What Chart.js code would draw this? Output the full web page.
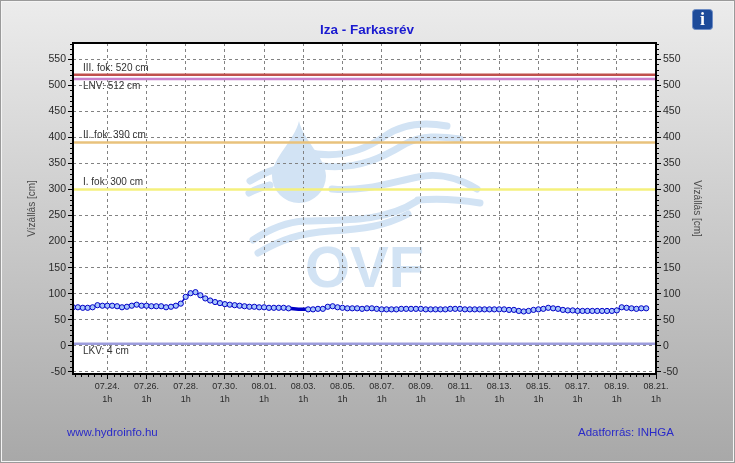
<!DOCTYPE html>
<html>
<head>
<meta charset="utf-8">
<title>Iza - Farkasrév</title>
<script src="https://cdn.jsdelivr.net/npm/chart.js@4.4.1/dist/chart.umd.min.js"></script>
<style>
  html, body { margin: 0; padding: 0; background: #fff; }
  canvas { display: block; }
</style>
</head>
<body>
<canvas id="chart" width="735" height="463"></canvas>
<script>
// time axis in hours, 07.24. 1h = 0; one reading every 6 hours from 07.22. 7h
const firstHour = -42;
const stepHours = 6;
const waterLevels = [
  74, 74, 73, 73, 74, 78, 77, 77, 77, 76, 74, 75, 77, 79, 77, 77, 76, 76, 76, 74,
  75, 77, 81, 94, 101, 103, 97, 91, 87, 84, 82, 80, 79, 78, 77, 76, 75, 75, 74, 74,
  73, 73, 73, 73, 72, 71, 70, 70, 70, 70, 71, 71, 75, 76, 74, 73, 72, 72, 72, 71,
  72, 72, 71, 70, 70, 70, 70, 71, 71, 71, 71, 71, 70, 70, 70, 70, 70, 71, 71, 71,
  70, 70, 70, 70, 70, 70, 70, 70, 70, 69, 69, 67, 66, 67, 69, 70, 71, 73, 72, 71,
  69, 68, 68, 67, 67, 67, 67, 67, 67, 67, 67, 68, 74, 73, 72, 71, 72, 72
];
// readings drawn without a marker in the original
const noMarker = [45, 46, 47];

const xTickLabels = ['07.24.', '07.26.', '07.28.', '07.30.', '08.01.', '08.03.', '08.05.', '08.07.',
  '08.09.', '08.11.', '08.13.', '08.15.', '08.17.', '08.19.', '08.21.'];
const xMin = -42;
const xMax = 672;

const levelValues = [520, 512, 390, 300, 4];
const levelLabels = ['III. fok: 520 cm', 'LNV: 512 cm', 'II. fok: 390 cm', 'I. fok: 300 cm', 'LKV: 4 cm'];
const levelColors = ['#c0504d', '#c880cc', '#e8c27c', '#f4f07c', '#9c9cdc'];
const labelBelow = ['LNV: 512 cm', 'LKV: 4 cm'];

const FONT = '"Liberation Sans", Arial, sans-serif';

const pageBits = {
  id: 'pageBits',
  beforeDraw(chart) {
    const ctx = chart.ctx;
    const a = chart.chartArea;
    ctx.save();
    const g = ctx.createLinearGradient(0, 0, 0, chart.height);
    g.addColorStop(0, '#ececec');
    g.addColorStop(1, '#a8a8a8');
    ctx.fillStyle = g;
    ctx.fillRect(0, 0, chart.width, chart.height);
    ctx.strokeStyle = '#9a9a9a';
    ctx.lineWidth = 1;
    ctx.strokeRect(0.5, 0.5, chart.width - 1, chart.height - 1);
    ctx.strokeStyle = '#f4f4f4';
    ctx.strokeRect(1.5, 1.5, chart.width - 3, chart.height - 3);
    ctx.fillStyle = '#fff';
    ctx.fillRect(a.left, a.top, a.right - a.left, a.bottom - a.top);

    // OVF watermark
    const wm = '#d2e3f4';
    ctx.fillStyle = wm;
    ctx.strokeStyle = wm;
    ctx.beginPath();
    ctx.moveTo(299, 121);
    ctx.bezierCurveTo(295, 140, 272, 158, 272, 176);
    ctx.arc(299, 176, 27, Math.PI, 0, true);
    ctx.bezierCurveTo(326, 158, 303, 140, 299, 121);
    ctx.fill();
    ctx.lineWidth = 7;
    ctx.lineCap = 'round';
    const waves = [
      [[306, 152], [340, 160, 365, 150, 385, 136], [402, 124, 425, 122, 447, 126]],
      [[322, 166], [360, 170, 385, 156, 405, 144], [422, 135, 440, 136, 460, 139]],
      [[250, 181], [258, 176, 266, 172, 277, 169], null],
      [[249, 193], [256, 189, 262, 187, 270, 185], null],
      [[332, 189], [365, 192, 392, 182, 418, 177], [440, 172, 462, 180, 477, 189]],
      [[418, 200], [440, 198, 462, 200, 480, 203], null],
      [[253, 240], [268, 230, 285, 222, 305, 221], [345, 220, 385, 222, 417, 201]],
      [[258, 253], [280, 240, 300, 233, 330, 231], [365, 229, 385, 226, 408, 214]]
    ];
    waves.forEach(w => {
      ctx.beginPath();
      ctx.moveTo(w[0][0], w[0][1]);
      ctx.bezierCurveTo(...w[1]);
      if (w[2]) ctx.bezierCurveTo(...w[2]);
      ctx.stroke();
    });
    ctx.font = 'bold 58px ' + FONT;
    ctx.textBaseline = 'alphabetic';
    ctx.fillText('OVF', 305, 287);
    ctx.restore();
  },
  afterDatasetsDraw(chart) {
    const ctx = chart.ctx;
    const a = chart.chartArea;
    const y = chart.scales.y;
    ctx.save();
    ctx.font = '10px ' + FONT;
    ctx.fillStyle = '#333';
    ctx.textAlign = 'left';
    ctx.textBaseline = 'middle';
    levelValues.forEach((v, i) => {
      const py = y.getPixelForValue(v);
      const below = labelBelow.includes(levelLabels[i]);
      ctx.fillText(levelLabels[i], a.left + 10, below ? py + 7 : py - 7);
    });
    ctx.restore();
  },
  afterDraw(chart) {
    const ctx = chart.ctx;
    const a = chart.chartArea;
    const x = chart.scales.x;
    const y = chart.scales.y;
    ctx.save();
    // minor ticks
    ctx.strokeStyle = '#000';
    ctx.lineWidth = 1;
    ctx.beginPath();
    for (let v = -50; v <= 580; v += 10) {
      if (v % 50 === 0) continue;
      const py = Math.round(y.getPixelForValue(v)) + 0.5;
      ctx.moveTo(a.left - 3, py); ctx.lineTo(a.left, py);
      ctx.moveTo(a.right, py); ctx.lineTo(a.right + 3, py);
    }
    for (let h = -40; h < xMax; h += 8) {
      if (h % 48 === 0) continue;
      const px = Math.round(x.getPixelForValue(h)) + 0.5;
      ctx.moveTo(px, a.bottom); ctx.lineTo(px, a.bottom + 3);
    }
    ctx.stroke();
    // plot frame
    ctx.lineWidth = 2;
    ctx.strokeRect(a.left, a.top, a.right - a.left, a.bottom - a.top);

    // title and footer
    ctx.font = 'bold 13.5px ' + FONT;
    ctx.fillStyle = '#1a1ad0';
    ctx.textAlign = 'center';
    ctx.textBaseline = 'middle';
    ctx.fillText('Iza - Farkasrév', 367, 30);
    ctx.font = '11.5px ' + FONT;
    ctx.fillStyle = '#2a2ac8';
    ctx.textAlign = 'left';
    ctx.fillText('www.hydroinfo.hu', 67, 433);
    ctx.fillText('Adatforrás: INHGA', 578, 433);

    // info icon
    ctx.fillStyle = '#1d4b9a';
    ctx.strokeStyle = '#6d8cc4';
    ctx.lineWidth = 1;
    ctx.beginPath();
    ctx.roundRect(692.5, 9.5, 20, 20, 3);
    ctx.fill();
    ctx.stroke();
    ctx.fillStyle = '#fff';
    ctx.font = 'bold 18px "Liberation Serif", "DejaVu Serif", serif';
    ctx.textAlign = 'center';
    ctx.fillText('i', 702.5, 20.5);
    ctx.restore();
  }
};

const tickColor = '#2a2a2a';
const gridColor = '#828282';

const datasets = [{
  data: waterLevels.map((v, i) => ({ x: firstHour + i * stepHours, y: v })),
  borderColor: '#0000c8',
  borderWidth: 1.5,
  pointRadius: c => noMarker.includes(c.dataIndex) ? 0 : 2.6,
  pointBackgroundColor: '#a8c6fa',
  pointBorderColor: '#0000c8',
  pointBorderWidth: 1,
  segment: {
    borderWidth: c => (noMarker.includes(c.p0DataIndex) || noMarker.includes(c.p1DataIndex)) ? 3.5 : 1.5
  },
  tension: 0
}];
levelValues.forEach((v, i) => {
  datasets.push({
    data: [{ x: xMin, y: v }, { x: xMax, y: v }],
    borderColor: levelColors[i],
    borderWidth: 2.5,
    pointRadius: 0
  });
});

const yAxis = (position) => ({
  type: 'linear',
  position: position,
  min: -54,
  max: 581,
  ticks: {
    stepSize: 50,
    includeBounds: false,
    color: tickColor,
    font: { family: FONT, size: 10.5 },
    padding: 2
  },
  grid: {
    color: gridColor,
    tickColor: '#000',
    tickLength: 5,
    drawOnChartArea: position === 'left'
  },
  border: { display: false, dash: [3, 3] },
  title: {
    display: true,
    text: 'Vízállás [cm]',
    color: '#4a4a4a',
    font: { family: FONT, size: 10 },
    padding: { top: 4, bottom: 0 }
  },
  afterFit: s => { s.width = 51; }
});

new Chart(document.getElementById('chart'), {
  type: 'line',
  data: { datasets: datasets },
  options: {
    responsive: false,
    animation: false,
    events: [],
    layout: { padding: { left: 22, right: 28, top: 43, bottom: 0 } },
    plugins: { legend: { display: false }, tooltip: { enabled: false } },
    scales: {
      x: {
        type: 'linear',
        min: xMin,
        max: xMax,
        ticks: {
          stepSize: 48,
          includeBounds: false,
          autoSkip: false,
          maxRotation: 0,
          color: tickColor,
          font: { family: FONT, size: 9, lineHeight: 1.45 },
          padding: 1,
          callback: (v, i) => [xTickLabels[i], '1h']
        },
        grid: { color: gridColor, tickColor: '#000', tickLength: 5 },
        border: { display: false, dash: [3, 3] },
        afterFit: s => { s.height = 89; }
      },
      y: yAxis('left'),
      y2: yAxis('right')
    }
  },
  plugins: [pageBits]
});
</script>
</body>
</html>
